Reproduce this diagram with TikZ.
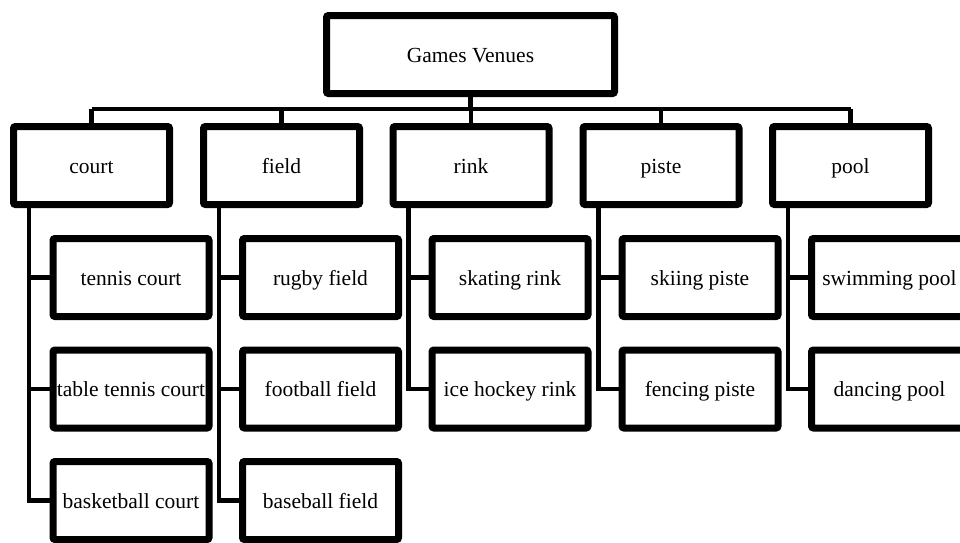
\documentclass[tikz,border=0pt]{standalone}
\usepackage{fontspec}
\setmainfont{Liberation Serif}
\usetikzlibrary{shadows}
\begin{document}
\begin{tikzpicture}[x=1pt,y=-1pt,
  box/.style={draw=black, fill=white, line width=7pt, rounded corners=2pt,
    minimum width=156pt, minimum height=78pt, inner sep=0pt,
    text height=16pt, text depth=1pt,
    font=\fontsize{21.5pt}{24pt}\selectfont,
    drop shadow={shadow xshift=1pt, shadow yshift=-2.5pt, opacity=0.35, fill=black!60}},
  topbox/.style={box, minimum width=288pt},
  conn/.style={draw=black, line width=4.5pt}]
\useasboundingbox (0,0) rectangle (960,542);
\clip (0,0) rectangle (960,542);
% nodes
\node[topbox] (top) at (470.5,54.5) {Games Venues};
\node[box] (court) at (91.5,165.5) {court};
\node[box] (field) at (281.5,165.5) {field};
\node[box] (rink) at (471,165.5) {rink};
\node[box] (piste) at (661,165.5) {piste};
\node[box] (pool) at (850.5,165.5) {pool};
\coordinate (bus) at (470.5,109);
% connectors top level
\draw[conn] (top.south) -- (bus);
\draw[conn] (court.north |- bus) -- (pool.north |- bus);
\foreach \n in {court,field,rink,piste,pool}
  \draw[conn] (\n.north |- bus) -- (\n.north);
% children
\node[box] (tc) at (131,277.5) {tennis court};
\node[box] (ttc) at (131,389) {table tennis court};
\node[box] (bc) at (131,500.5) {basketball court};
\node[box] (rf) at (320.5,277.5) {rugby field};
\node[box] (ff) at (320.5,389) {football field};
\node[box] (bf) at (320.5,500.5) {baseball field};
\node[box] (sr) at (510,277.5) {skating rink};
\node[box] (ihr) at (510,389) {ice hockey rink};
\node[box] (sp) at (700,277.5) {skiing piste};
\node[box] (fp) at (700,389) {fencing piste};
\node[box] (swp) at (889.5,277.5) {swimming pool};
\node[box] (dp) at (889.5,389) {dancing pool};
% child connectors
\foreach \p/\c in {court/tc,court/ttc,court/bc,field/rf,field/ff,field/bf,rink/sr,rink/ihr,piste/sp,piste/fp,pool/swp,pool/dp}
  \draw[conn] ([xshift=-62.5pt]\p.south) |- (\c.west);
\end{tikzpicture}
\end{document}
